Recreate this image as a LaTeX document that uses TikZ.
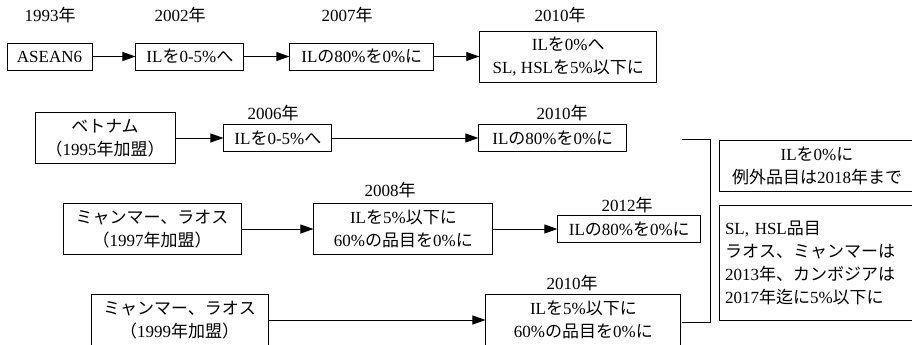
\documentclass[tikz,border=0pt]{standalone}
\usepackage{fontspec}
\setmainfont{Liberation Serif}
\newfontfamily\jpfont{Noto Sans CJK JP}
% switch to the Japanese font for kana, kanji and full-width forms
\XeTeXinterchartokenstate=1
\newXeTeXintercharclass\jpclass
\newcount\jpc
\def\jpsetrange#1#2{\jpc=#1 \loop\XeTeXcharclass\jpc=\jpclass \ifnum\jpc<#2 \advance\jpc by 1 \repeat}
\jpsetrange{"3000}{"30FF}
\jpsetrange{"4E00}{"9FFF}
\jpsetrange{"FF00}{"FF60}
\XeTeXinterchartoks 0 \jpclass={\begingroup\jpfont}
\XeTeXinterchartoks 4095 \jpclass={\begingroup\jpfont}
\XeTeXinterchartoks \jpclass 0={\endgroup}
\XeTeXinterchartoks \jpclass 4095={\endgroup}
\usetikzlibrary{arrows.meta,positioning}

\begin{document}
\begin{tikzpicture}[
        x=1pt, y=-1pt,
        font=\fontsize{17}{23}\selectfont,
        box/.style={draw, line width=0.9pt, align=center, inner sep=3pt, minimum height=27pt},
        tall/.style={box, minimum height=51pt},
        yr/.style={inner sep=0pt},
        arr/.style={-{Triangle[length=13pt, width=9pt]}, line width=0.9pt}
    ]
        \useasboundingbox (0,0) rectangle (912,345);
        % ASEAN6
        \node[box, minimum width=85pt] (asean) at (49.5,56.5) {ASEAN6};
        \node[box, minimum width=108pt, right=43pt of asean] (a02) {ILを0-5\%へ};
        \node[box, minimum width=144pt, right=45pt of a02] (a07) {ILの80\%を0\%に};
        \node[tall, minimum width=177pt, right=45pt of a07] (a10) {ILを0\%へ\\SL, HSLを5\%以下に};
        \node[yr] (y1993) at (50,15) {1993年};
        \node[yr] (y2002) at (180,15) {2002年};
        \node[yr] (y2007) at (347,15) {2007年};
        \node[yr] (y2010a) at (560,15) {2010年};
        \draw[arr] (asean) -- (a02);
        \draw[arr] (a02) -- (a07);
        \draw[arr] (a07) -- (a10);
        % ベトナム
        \node[tall, minimum width=140pt] (viet) at (105,138) {ベトナム\\（1995年加盟）};
        \node[box, minimum width=108pt, right=48pt of viet] (v06) {ILを0-5\%へ};
        \node[box, minimum width=148pt, right=146pt of v06] (v10) {ILの80\%を0\%に};
        \node[yr] (y2006) at (273,113) {2006年};
        \node[yr] (y2010b) at (562,113) {2010年};
        \draw[arr] (viet) -- (v06);
        \draw[arr] (v06) -- (v10);
        % ミャンマー、ラオス 1997
        \node[tall, minimum width=178pt] (m97) at (152,229) {ミャンマー、ラオス\\（1997年加盟）};
        \node[tall, minimum width=179pt, right=72pt of m97] (m08) {ILを5\%以下に\\60\%の品目を0\%に};
        \node[box, minimum width=143pt, right=64pt of m08] (m12) {ILの80\%を0\%に};
        \node[yr] (y2008) at (390,190) {2008年};
        \node[yr] (y2012) at (627,205) {2012年};
        \draw[arr] (m97) -- (m08);
        \draw[arr] (m08) -- (m12);
        % ミャンマー、ラオス 1999
        \node[tall, minimum width=177pt] (m99) at (179.5,320) {ミャンマー、ラオス\\（1999年加盟）};
        \node[tall, minimum width=195pt, right=217pt of m99] (n10) {ILを5\%以下に\\60\%の品目を0\%に};
        \node[yr] (y2010c) at (572,283) {2010年};
        \draw[arr] (m99) -- (n10);
        % bracket and goals
        \coordinate (brtl) at (682,139);
        \coordinate (brtr) at (710,139);
        \coordinate (brbr) at (710,322);
        \coordinate (brbl) at (682,322);
        \draw[line width=0.9pt] (brtl) -- (brtr) -- (brbr) -- (brbl);
        \node[box, text width=184pt, inner xsep=6pt, minimum height=51pt] (goal) at (817,166) {ILを0\%に\\例外品目は2018年まで};
        \node[box, text width=184pt, inner xsep=6pt, minimum height=115pt, align=left] (sens) at (817,262.5) {SL, HSL品目\\ラオス、ミャンマーは\\2013年、カンボジアは\\2017年迄に5\%以下に};
    \end{tikzpicture}
\end{document}
